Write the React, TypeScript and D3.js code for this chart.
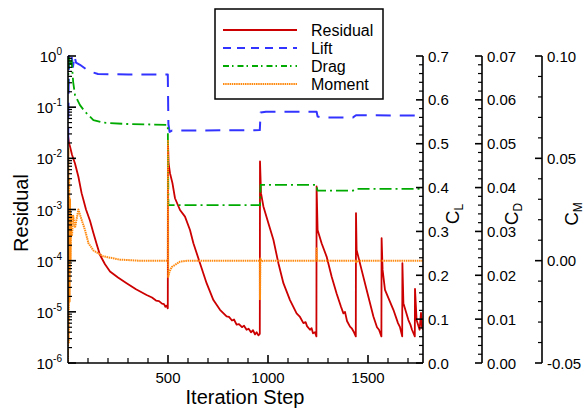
import React from 'react';
import * as d3 from 'd3';

// [iteration, log10(residual)]
const residualData: [number, number][] = [
  [0, -1.55], [5, -1.7], [10, -1.77], [20, -1.93], [35, -2.1], [52, -2.36], [68, -2.68], [77, -2.81],
  [90, -3.0], [110, -3.22], [127, -3.46], [145, -3.7], [160, -3.89], [185, -4.07], [210, -4.21],
  [250, -4.33], [293, -4.44], [340, -4.56], [393, -4.67], [420, -4.72], [440, -4.78], [455, -4.79], [470, -4.84],
  [480, -4.85], [487, -4.9], [493, -4.88], [499, -4.93],
  [500, -1.7], [503, -2.1], [510, -2.29], [522, -2.48], [535, -2.78], [560, -3.01], [585, -3.14],
  [610, -3.4], [627, -3.66], [660, -4.05], [693, -4.44], [727, -4.77], [760, -4.96], [793, -5.09],
  [805, -5.1], [820, -5.17], [830, -5.15], [843, -5.25], [855, -5.24], [870, -5.3], [880, -5.27], [893, -5.35],
  [903, -5.33], [915, -5.4], [925, -5.36], [935, -5.44], [943, -5.4], [952, -5.46], [959, -5.43],
  [960, -2.06], [965, -2.68], [977, -2.94], [1002, -3.27], [1027, -3.59], [1052, -4.05], [1077, -4.44],
  [1110, -4.77], [1143, -5.03], [1160, -5.1], [1177, -5.22], [1188, -5.2], [1195, -5.28], [1210, -5.35],
  [1218, -5.32], [1225, -5.42], [1235, -5.4], [1242, -5.48],
  [1243, -2.55], [1248, -3.4], [1268, -3.66], [1293, -3.92], [1318, -4.31], [1343, -4.64], [1365, -4.9],
  [1377, -5.03], [1385, -5.0], [1395, -5.18], [1410, -5.29], [1420, -5.33], [1430, -5.4], [1439, -5.48],
  [1440, -3.07], [1443, -3.79], [1468, -4.18], [1493, -4.57], [1527, -5.09], [1545, -5.3], [1555, -5.35],
  [1567, -5.48],
  [1568, -3.56], [1573, -4.18], [1585, -4.57], [1627, -4.96], [1650, -5.22], [1660, -5.3], [1671, -5.48],
  [1672, -4.05], [1677, -4.83], [1702, -5.16], [1712, -5.25], [1720, -5.35], [1734, -5.48],
  [1735, -4.55], [1743, -5.16], [1758, -5.35], [1765, -5.02], [1770, -5.3], [1775, -5.35],
];

// [iteration, CL]
const liftData: [number, number][] = [
  [0, 0.45], [3, 0.62], [6, 0.7], [12, 0.69], [18, 0.7], [25, 0.675], [32, 0.7], [40, 0.685],
  [60, 0.68], [90, 0.67], [115, 0.664], [150, 0.659], [300, 0.658], [499, 0.658],
  [502, 0.545], [508, 0.527], [520, 0.53], [959, 0.531], [963, 0.571], [990, 0.573], [1243, 0.573],
  [1248, 0.562], [1270, 0.56], [1425, 0.56], [1440, 0.565], [1775, 0.564],
];

// [iteration, CD]
const dragData: [number, number][] = [
  [0, 0.062], [4, 0.07], [10, 0.068], [18, 0.069], [26, 0.064], [35, 0.0611], [60, 0.0588],
  [85, 0.0573], [127, 0.0554], [177, 0.0548], [293, 0.0545], [499, 0.0543],
  [502, 0.036], [960, 0.036], [963, 0.0406], [1243, 0.0406], [1247, 0.0393], [1425, 0.0393],
  [1440, 0.0397], [1775, 0.0397],
];

// [iteration, CM]
const momentData: [number, number][] = [
  [0, -0.06], [2, 0.055], [4, -0.04], [6, 0.04], [8, -0.02], [10, 0.03], [13, 0.0], [16, 0.022],
  [20, 0.012], [26, 0.022], [35, 0.016], [52, 0.025], [68, 0.02], [85, 0.015], [102, 0.0086],
  [127, 0.005], [177, 0.0021], [260, 0.0005], [350, 0.0], [499, 0.0],
  [500, 0.059], [501, -0.008], [507, -0.0054], [520, -0.003], [560, -0.0005], [600, 0.0], [959, 0.0],
  [960, -0.0192], [962, 0.001], [968, -0.0004], [980, 0.0], [1242, 0.0], [1243, 0.006], [1245, 0.0],
  [1439, 0.0], [1441, -0.0011], [1445, 0.0], [1775, 0.0],
];

const xTickLabels = [500, 1000, 1500];
const residualExponents = [0, -1, -2, -3, -4, -5, -6];
const clTicks = [0.0, 0.1, 0.2, 0.3, 0.4, 0.5, 0.6, 0.7];
const cdTicks = [0.0, 0.01, 0.02, 0.03, 0.04, 0.05, 0.06, 0.07];
const cmTicks = [-0.05, 0.0, 0.05, 0.1];
const legendItems = ['Residual', 'Lift', 'Drag', 'Moment'];

const FONT = '"Liberation Sans", Arial, Helvetica, sans-serif';

export default function App() {
  const W = 584, H = 410;
  const left = 68, right = 423, top = 56, bottom = 363;
  const x = d3.scaleLinear().domain([0, 1775]).range([left, right]);
  const yR = d3.scaleLog().domain([1e-6, 1]).range([bottom, top]);
  const yL = d3.scaleLinear().domain([0, 0.7]).range([bottom, top]);
  const yD = d3.scaleLinear().domain([0, 0.07]).range([bottom, top]);
  const yM = d3.scaleLinear().domain([-0.05, 0.1]).range([bottom, top]);

  const resLine = d3.line<[number, number]>().x(d => x(d[0])).y(d => yR(Math.pow(10, d[1])));
  const liftLine = d3.line<[number, number]>().x(d => x(d[0])).y(d => yL(d[1]));
  const dragLine = d3.line<[number, number]>().x(d => x(d[0])).y(d => yD(d[1]));
  const momLine = d3.line<[number, number]>().x(d => x(d[0])).y(d => yM(d[1]));

  const colors = { res: '#cc0000', lift: '#3333ff', drag: '#00aa00', mom: '#ff8a10' };
  const styles = [
    { c: colors.res, w: 1.8, dash: undefined, legDash: undefined },
    { c: colors.lift, w: 2, dash: '15,9', legDash: '8,6' },
    { c: colors.drag, w: 1.8, dash: '12,4,2,4', legDash: '6,3,1.5,4' },
    { c: colors.mom, w: 2, dash: '1.5,0.7', legDash: '1.5,0.7' },
  ];

  const xMinor = d3.range(100, 1775, 100).filter(v => v % 500 !== 0);
  const logMinor: number[] = [];
  for (let e = -6; e < 0; e++) for (let k = 2; k <= 9; k++) logMinor.push(k * Math.pow(10, e));
  const clMinor = d3.range(0, 36).map(i => +(i * 0.02).toFixed(3)).filter(v => Math.round(v * 100) % 10 !== 0);
  const cdMinor = d3.range(0, 36).map(i => +(i * 0.002).toFixed(4)).filter(v => Math.round(v * 1000) % 10 !== 0);
  const cmMinor = d3.range(-5, 11).map(i => +(i * 0.01).toFixed(3)).filter(v => Math.round(v * 100) % 5 !== 0);

  const axisStroke = { stroke: '#000', strokeWidth: 1.6 };

  const rightAxis = (ax: number, scale: d3.ScaleLinear<number, number>, major: number[], minor: number[], fmt: (v: number) => string) => (
    <g>
      <line x1={ax} x2={ax} y1={top} y2={bottom} {...axisStroke} />
      {major.map((v, i) => (
        <g key={'M' + i}>
          <line x1={ax - 7} x2={ax} y1={scale(v)} y2={scale(v)} {...axisStroke} />
          <text x={ax + 5} y={scale(v) + 5.5} fontSize={15} fontFamily={FONT}>{fmt(v)}</text>
        </g>
      ))}
      {minor.map((v, i) => (
        <line key={'m' + i} x1={ax - 4} x2={ax} y1={scale(v)} y2={scale(v)} stroke="#000" strokeWidth={1.2} />
      ))}
    </g>
  );

  return (
    <svg width={W} height={H} style={{ position: 'absolute', left: 0, top: 0, background: '#fff' }}>
      <defs>
        <clipPath id="plotClip">
          <rect x={left} y={top - 1} width={right - left} height={bottom - top + 1} />
        </clipPath>
      </defs>
      <rect x={0} y={0} width={W} height={H} fill="#fff" />
      <g clipPath="url(#plotClip)" fill="none" strokeLinejoin="round">
        <path d={resLine(residualData) || ''} stroke={styles[0].c} strokeWidth={styles[0].w} />
        <path d={liftLine(liftData) || ''} stroke={styles[1].c} strokeWidth={styles[1].w} strokeDasharray={styles[1].dash} />
        <path d={dragLine(dragData) || ''} stroke={styles[2].c} strokeWidth={styles[2].w} strokeDasharray={styles[2].dash} />
        <path d={momLine(momentData) || ''} stroke={styles[3].c} strokeWidth={styles[3].w} strokeDasharray={styles[3].dash} />
      </g>

      <line x1={left} x2={left} y1={top} y2={bottom} {...axisStroke} />
      {residualExponents.map(e => (
        <g key={'e' + e}>
          <line x1={left} x2={left + 8} y1={yR(Math.pow(10, e))} y2={yR(Math.pow(10, e))} {...axisStroke} />
          <text x={62} y={yR(Math.pow(10, e)) + 6} fontSize={15} fontFamily={FONT} textAnchor="end">
            <tspan>10</tspan>
            <tspan dy={-7} fontSize={10}>{e}</tspan>
          </text>
        </g>
      ))}
      {logMinor.map((v, i) => (
        <line key={'lm' + i} x1={left} x2={left + 4} y1={yR(v)} y2={yR(v)} stroke="#000" strokeWidth={1.2} />
      ))}

      <line x1={left} x2={right} y1={bottom} y2={bottom} {...axisStroke} />
      {xTickLabels.map(v => (
        <g key={'x' + v}>
          <line x1={x(v)} x2={x(v)} y1={bottom} y2={bottom - 8} {...axisStroke} />
          <text x={x(v)} y={383} fontSize={15} fontFamily={FONT} textAnchor="middle">{v}</text>
        </g>
      ))}
      {xMinor.map(v => (
        <line key={'xm' + v} x1={x(v)} x2={x(v)} y1={bottom} y2={bottom - 5} stroke="#000" strokeWidth={1.2} />
      ))}

      {rightAxis(right, yL, clTicks, clMinor, v => v.toFixed(1))}
      {rightAxis(482, yD, cdTicks, cdMinor, v => v.toFixed(2))}
      {rightAxis(542, yM, cmTicks, cmMinor, v => v.toFixed(2))}

      <text x={245} y={404} fontSize={20} fontFamily={FONT} textAnchor="middle">Iteration Step</text>
      <text transform="translate(28,213) rotate(-90)" fontSize={20} fontFamily={FONT} textAnchor="middle">Residual</text>
      <text transform="translate(459,214) rotate(-90)" fontSize={19} fontFamily={FONT} textAnchor="middle">
        C<tspan dy={4} fontSize={12}>L</tspan>
      </text>
      <text transform="translate(518,214) rotate(-90)" fontSize={19} fontFamily={FONT} textAnchor="middle">
        C<tspan dy={4} fontSize={12}>D</tspan>
      </text>
      <text transform="translate(578,214) rotate(-90)" fontSize={19} fontFamily={FONT} textAnchor="middle">
        C<tspan dy={4} fontSize={12}>M</tspan>
      </text>

      <rect x={215} y={9} width={168} height={90} fill="#fff" stroke="#000" strokeWidth={1.5} />
      {legendItems.map((name, i) => {
        const ly = 30 + i * 18;
        return (
          <g key={name}>
            <line x1={223} x2={297} y1={ly} y2={ly} stroke={styles[i].c} strokeWidth={styles[i].w} strokeDasharray={styles[i].legDash} />
            <text x={311} y={ly + 5.5} fontSize={16} fontFamily={FONT}>{name}</text>
          </g>
        );
      })}
    </svg>
  );
}
